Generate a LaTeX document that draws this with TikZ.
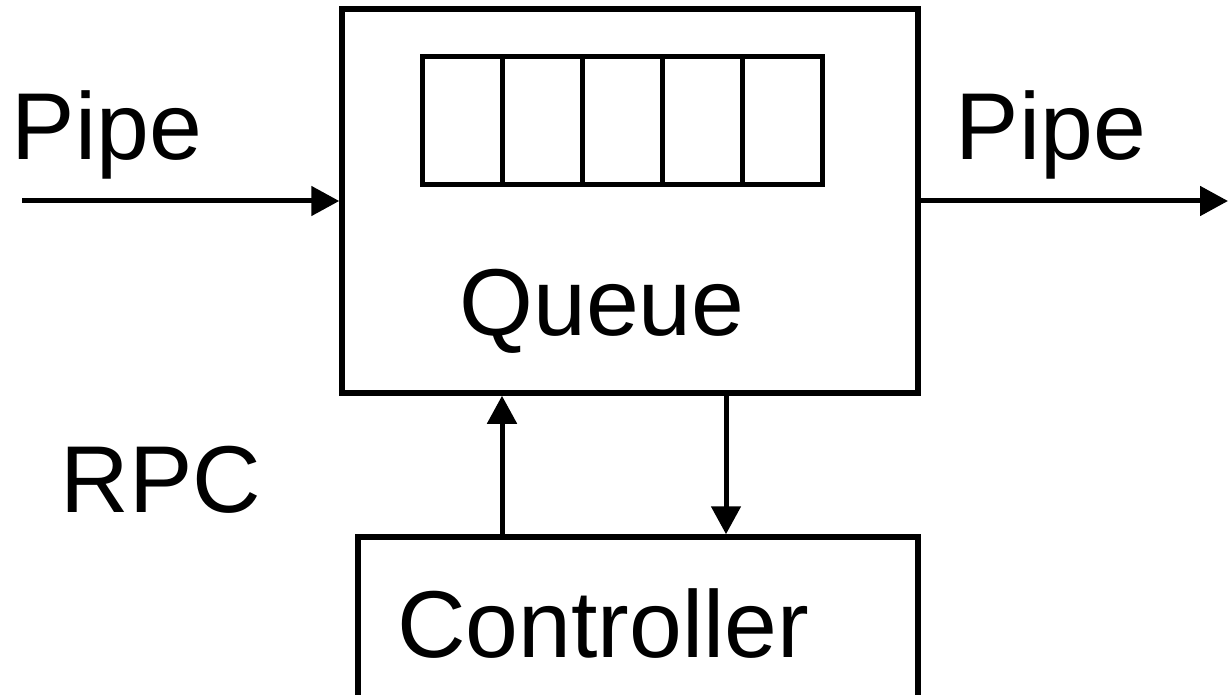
\documentclass[tikz,border=0pt]{standalone}
\usepackage{fontspec}
\setmainfont{Liberation Sans}
\usetikzlibrary{arrows.meta}
\begin{document}
\begin{tikzpicture}[x=1pt,y=-1pt,
  box/.style={draw, line width=5.5pt, inner sep=0pt, fill=none},
  cell/.style={draw, line width=5pt, inner sep=0pt, minimum width=80pt, minimum height=128pt},
  lbl/.style={inner sep=0pt, anchor=base, font=\fontsize{95}{100}\selectfont},
  arr/.style={line width=5pt, -{Triangle[length=28pt,width=29pt]}}]
\useasboundingbox (0,0) rectangle (1228,695);
\clip (0,0) rectangle (1228,695);
% boxes
\node[box, minimum width=576pt, minimum height=384pt] (queue) at (630,201) {};
\node[box, minimum width=560pt, minimum height=223pt] (ctrl) at (638,648.5) {};
% queue cells
\node[cell] (c1) at (462,121) {};
\node[cell] (c2) at (542,121) {};
\node[cell] (c3) at (622,121) {};
\node[cell] (c4) at (702,121) {};
\node[cell] (c5) at (782,121) {};
% texts
\node[lbl] (pipein) at (107,160) {Pipe};
\node[lbl] (pipeout) at (1051,160) {Pipe};
\node[lbl] (qtext) at (602,335) {Queue};
\node[lbl] (rpc) at (161,512) {RPC};
\node[lbl] (ctext) at (603,657) {Controller};
% connectors
\coordinate (inbeg) at (22,201);
\coordinate (outend) at (1228,201);
\draw[arr] (inbeg) -- (queue.west);
\draw[arr] (queue.east) -- (outend);
\draw[arr] (ctrl.north -| 502,0) -- (queue.south -| 502,0);
\draw[arr] (queue.south -| 726,0) -- (ctrl.north -| 726,0);
\end{tikzpicture}
\end{document}
